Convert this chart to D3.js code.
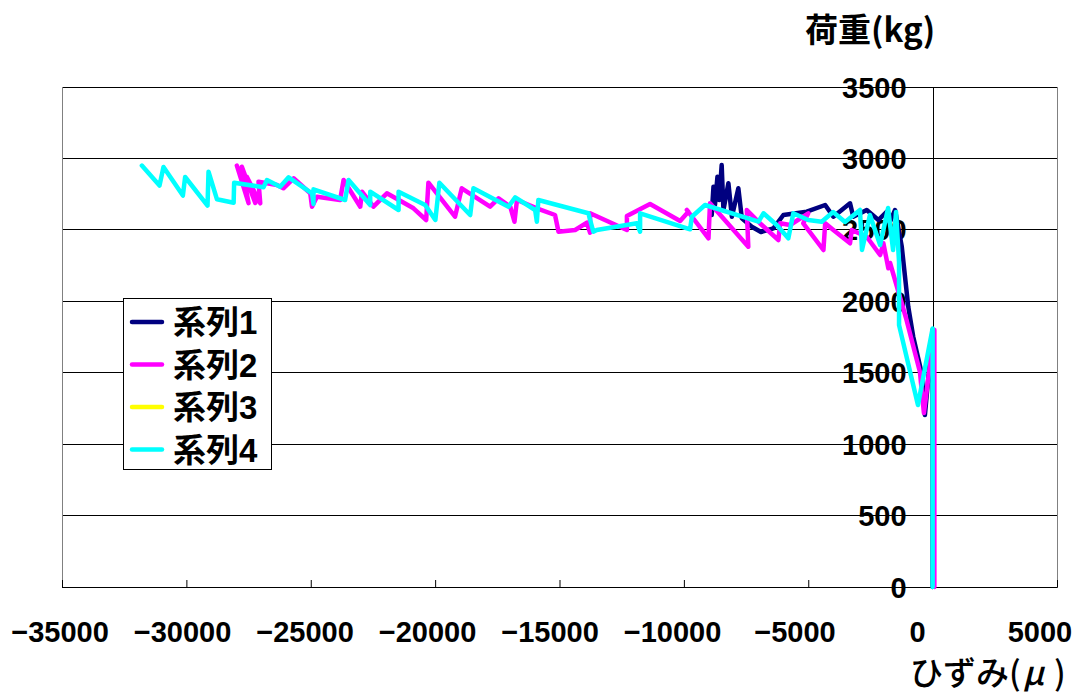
<!DOCTYPE html>
<html>
<head>
<meta charset="utf-8">
<script src="https://cdn.jsdelivr.net/npm/d3@7/dist/d3.min.js"></script>
<style>
  html, body { margin: 0; padding: 0; background: #fff; }
  svg { display: block; }
  .num { font-family: "Liberation Sans", Arial, sans-serif; font-weight: bold; font-size: 29px; fill: #000; }
  .jp { font-family: "Noto Sans CJK JP", sans-serif; fill: #000; }
  .legend-text { font-family: "Liberation Sans", "Noto Sans CJK JP", sans-serif; font-weight: bold; font-size: 33px; fill: #000; }
</style>
</head>
<body>
<svg id="chart" width="1086" height="697"></svg>
<script>
// Load (kg) vs. strain (μ) for four gauges
const seriesNames = ["系列1", "系列2", "系列3", "系列4"];
const seriesColors = ["#000080", "#ff00ff", "#ffff00", "#00ffff"];

const xTicks = [-35000, -30000, -25000, -20000, -15000, -10000, -5000, 0, 5000];
const yTicks = [0, 500, 1000, 1500, 2000, 2500, 3000, 3500];

// 系列1
const s1Strain = [-8880, -8810, -8750, -8650, -8580, -8480, -8410, -8210, -8070, -7810, -7670, -7270, -6900, -6400, -6000, -5060, -4320, -3990, -3320, -3190, -2650, -2180, -1840, -1710, -1510, -1240, -980, -780, -440, -310, 0, 0];
const s1Load   = [2604, 2802, 2674, 2872, 2709, 2954, 2639, 2826, 2592, 2791, 2581, 2522, 2485, 2511, 2604, 2627, 2674, 2592, 2686, 2592, 2639, 2569, 2627, 2557, 2639, 2382, 1962, 1752, 1496, 1204, 1800, 0];

// 系列2
const s2Strain = [-27970, -27500, -27770, -27230, -27570, -27030, -27100, -26360, -26100, -25690, -25020, -24950, -24750, -23820, -23680, -23010, -22940, -22480, -21940, -20870, -20360, -20270, -19200, -18930, -17790, -17450, -16980, -16810, -16710, -15910, -15180, -15040, -14370, -13900, -13770, -13770, -12290, -12290, -11360, -10150, -9820, -9880, -9010, -8950, -7410, -7470, -6940, -6200, -6130, -5730, -5000, -5200, -4390, -4320, -3990, -3320, -3250, -2650, -2110, -1980, -1780, -1710, -1070, -510, -350, 70, 70];
const s2Load   = [2950, 2687, 2942, 2688, 2872, 2686, 2837, 2814, 2791, 2861, 2756, 2662, 2732, 2709, 2849, 2662, 2767, 2662, 2756, 2651, 2569, 2830, 2592, 2791, 2662, 2721, 2662, 2557, 2709, 2651, 2604, 2487, 2499, 2550, 2480, 2616, 2499, 2597, 2681, 2562, 2627, 2639, 2441, 2686, 2382, 2639, 2546, 2429, 2546, 2534, 2616, 2546, 2359, 2546, 2499, 2406, 2499, 2452, 2324, 2406, 2231, 2268, 1883, 1505, 1218, 1800, 0];

// 系列3
const s3Strain = [];
const s3Load   = [];

// 系列4
const s4Strain = [-31790, -31080, -30920, -30140, -30050, -29150, -29110, -28770, -28100, -28080, -26900, -26760, -26230, -25890, -24950, -24890, -24890, -23620, -23480, -22610, -22610, -21470, -21470, -20400, -19990, -19830, -18590, -18460, -17050, -16780, -15980, -15910, -15850, -13840, -13640, -13500, -11890, -11760, -11760, -9750, -9680, -9150, -7000, -6800, -6270, -5800, -5600, -5000, -4460, -4000, -3520, -2920, -2840, -2520, -2110, -1790, -1590, -1470, -1350, -1350, -590, 0, 0];
const s4Load   = [2950, 2810, 2940, 2740, 2870, 2670, 2907, 2714, 2690, 2830, 2798, 2849, 2802, 2868, 2756, 2681, 2784, 2709, 2849, 2674, 2767, 2639, 2767, 2674, 2569, 2830, 2604, 2791, 2662, 2728, 2639, 2557, 2709, 2616, 2487, 2499, 2546, 2487, 2616, 2504, 2592, 2674, 2557, 2616, 2534, 2441, 2616, 2569, 2557, 2625, 2555, 2639, 2359, 2604, 2394, 2653, 2359, 2625, 2275, 1834, 1274, 1810, 0];

const strains = [s1Strain, s2Strain, s3Strain, s4Strain];
const loads = [s1Load, s2Load, s3Load, s4Load];

const svg = d3.select("#chart");
const plot = { left: 62, right: 1057, top: 87, bottom: 587 };

const x = d3.scaleLinear().domain([-35000, 5000]).range([plot.left, plot.right]);
const y = d3.scaleLinear().domain([0, 3500]).range([plot.bottom, plot.top]);
// tick labels sit on a slightly narrower span than the ticks themselves
const xLabel = d3.scaleLinear().domain([-35000, 5000]).range([60, 1040]);

// horizontal gridlines
svg.append("g")
  .selectAll("line")
  .data(yTicks)
  .join("line")
  .attr("x1", plot.left).attr("x2", plot.right)
  .attr("y1", d => y(d)).attr("y2", d => y(d))
  .attr("stroke", "#000").attr("stroke-width", 1)
  .attr("shape-rendering", "crispEdges");

// plot frame (left / right)
svg.append("g").selectAll("line")
  .data([plot.left, plot.right])
  .join("line")
  .attr("x1", d => d).attr("x2", d => d)
  .attr("y1", plot.top).attr("y2", plot.bottom)
  .attr("stroke", "#808080").attr("stroke-width", 1)
  .attr("shape-rendering", "crispEdges");

// y axis crossing at strain 0
svg.append("line")
  .attr("x1", Math.round(x(0)) + 0.5).attr("x2", Math.round(x(0)) + 0.5)
  .attr("y1", plot.top).attr("y2", plot.bottom)
  .attr("stroke", "#000").attr("stroke-width", 1);

// x axis with inward ticks
const xAxis = d3.axisTop(x).tickValues(xTicks).tickSize(7).tickFormat("");
const xg = svg.append("g").attr("transform", `translate(0,${plot.bottom})`).call(xAxis);
xg.select(".domain").attr("stroke", "#000");
xg.selectAll(".tick line").attr("stroke", "#000");

// x tick labels
svg.append("g")
  .selectAll("text")
  .data(xTicks)
  .join("text")
  .attr("class", "num")
  .attr("x", d => xLabel(d))
  .attr("y", 642)
  .attr("text-anchor", "middle")
  .text(d => d3.format("d")(d));

// y tick labels, right-aligned just left of the y axis
svg.append("g")
  .selectAll("text")
  .data(yTicks)
  .join("text")
  .attr("class", "num")
  .attr("x", x(0) - 26)
  .attr("y", d => y(d) + 10.5)
  .attr("text-anchor", "end")
  .text(d => d);

// axis titles
svg.append("text")
  .attr("class", "jp")
  .attr("x", 805).attr("y", 42)
  .attr("font-size", 33).attr("font-weight", "bold")
  .text("荷重(kg)");

const xTitle = svg.append("text")
  .attr("class", "jp")
  .attr("x", 910).attr("y", 685)
  .attr("font-size", 33).attr("font-weight", 500)
  .text("ひずみ(");
xTitle.append("tspan").attr("font-style", "italic").attr("dx", 2).text("μ");
xTitle.append("tspan").attr("dx", 10).text(")");

// data lines
const line = d3.line().x(d => x(d[0])).y(d => y(d[1]));
const series = seriesNames.map((name, i) => ({
  name,
  color: seriesColors[i],
  points: strains[i].map((s, j) => [s, loads[i][j]])
}));

svg.append("g")
  .selectAll("path")
  .data(series.filter(s => s.points.length > 1))
  .join("path")
  .attr("d", d => line(d.points))
  .attr("fill", "none")
  .attr("stroke", d => d.color)
  .attr("stroke-width", 4.5)
  .attr("stroke-linejoin", "round")
  .attr("stroke-linecap", "round");

// legend
const legend = svg.append("g").attr("transform", "translate(123,298)");
legend.append("rect")
  .attr("x", 0.5).attr("y", 0.5)
  .attr("width", 148).attr("height", 171)
  .attr("fill", "#fff").attr("stroke", "#000").attr("stroke-width", 1);

const item = legend.selectAll("g.item")
  .data(series)
  .join("g")
  .attr("class", "item")
  .attr("transform", (d, i) => `translate(0,${24 + i * 42.5})`);

item.append("line")
  .attr("x1", 9).attr("x2", 39)
  .attr("y1", 0).attr("y2", 0)
  .attr("stroke", d => d.color)
  .attr("stroke-width", 4.5)
  .attr("stroke-linecap", "round");

item.append("text")
  .attr("class", "legend-text")
  .attr("x", 50).attr("y", 12)
  .text(d => d.name);
</script>
</body>
</html>
